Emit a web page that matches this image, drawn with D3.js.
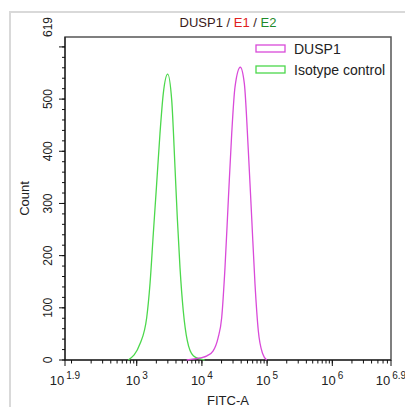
<!DOCTYPE html>
<html>
<head>
<meta charset="utf-8">
<script src="https://cdn.jsdelivr.net/npm/d3@7/dist/d3.min.js"></script>
<style>
  body { margin: 0; background: #fff; }
  text { font-family: "Liberation Sans", Arial, sans-serif; fill: #222; }
</style>
</head>
<body>
<div id="chart"></div>
<script>
// histogram colors
var colors = {
  'dusp1': '#d94ad9',
  'isotype': '#4cd84c'
}

// FITC-A intensity and counts
var isotypeX = [743, 1122, 1422, 1599, 1796, 2023, 2274, 2557, 2985, 3441, 3865, 4190, 4610, 5178, 5967, 7379, 9350, 11000];
var isotypeY = [0, 31, 81, 146, 242, 338, 434, 511, 548, 498, 369, 273, 177, 94, 37, 8, 2, 0];

var dusp1X = [5830, 9350, 11970, 14790, 17660, 20100, 22590, 25400, 28640, 32150, 38800, 44700, 51450, 57980, 65140, 73250, 85540, 98550];
var dusp1Y = [0, 4, 8, 17, 42, 81, 177, 306, 434, 523, 561, 530, 402, 273, 146, 56, 12, 0];

var xTickPowers = [1.9, 3, 4, 5, 6, 6.9];
var xTickLabels = ["1.9", "3", "4", "5", "6", "6.9"];
var yTicks = [0, 100, 200, 300, 400, 500];
var yMax = 619;

var legendNames = ["DUSP1", "Isotype control"];

var margin = { top: 37, right: 14, bottom: 47, left: 65 };
var width = 405 - margin.left - margin.right;
var height = 407 - margin.top - margin.bottom;

var svg = d3.select("#chart").append("svg")
  .attr("width", 405)
  .attr("height", 407);

// light outer frame
svg.append("path")
  .attr("d", "M10,420 V12 H420")
  .attr("fill", "none")
  .attr("stroke", "#d9d9d9")
  .attr("stroke-width", 2);

var g = svg.append("g")
  .attr("transform", "translate(" + margin.left + "," + margin.top + ")");

var x = d3.scaleLog().domain([Math.pow(10, 1.9), Math.pow(10, 6.9)]).range([0, width]);
var y = d3.scaleLinear().domain([0, yMax]).range([height, 0]);

// plot frame
g.append("rect")
  .attr("width", width)
  .attr("height", height)
  .attr("fill", "none")
  .attr("stroke", "#555")
  .attr("stroke-width", 1.5);

// x axis: major and minor ticks
var minorX = [];
for (var p = 2; p <= 6; p++) {
  for (var m = 1; m <= 9; m++) {
    var v = m * Math.pow(10, p);
    if (v <= Math.pow(10, 6.9)) minorX.push(v);
  }
}
var xAxis = g.append("g").attr("transform", "translate(0," + height + ")");
xAxis.append("line").attr("x1", 0).attr("x2", width).attr("stroke", "#111");
xAxis.selectAll(".minor").data(minorX).enter().append("line")
  .attr("x1", function(d) { return x(d); })
  .attr("x2", function(d) { return x(d); })
  .attr("y2", 3.5)
  .attr("stroke", "#111");
xAxis.selectAll(".major").data(xTickPowers).enter().append("line")
  .attr("x1", function(d) { return x(Math.pow(10, d)); })
  .attr("x2", function(d) { return x(Math.pow(10, d)); })
  .attr("y2", 6)
  .attr("stroke", "#111");
var xl = xAxis.selectAll(".lab").data(xTickPowers).enter().append("text")
  .attr("x", function(d) { return x(Math.pow(10, d)); })
  .attr("y", 25)
  .attr("text-anchor", "middle")
  .style("font-size", "13px");
xl.append("tspan").text("10");
xl.append("tspan")
  .attr("dx", 2)
  .attr("dy", -6)
  .style("font-size", "10px")
  .text(function(d, i) { return xTickLabels[i]; });

g.append("text")
  .attr("x", width / 2)
  .attr("y", height + 45)
  .attr("text-anchor", "middle")
  .style("font-size", "13px")
  .text("FITC-A");

// y axis
var yAxis = g.append("g");
yAxis.append("line").attr("y1", 0).attr("y2", height).attr("stroke", "#111");
yAxis.selectAll(".minor").data(d3.range(0, 620, 20)).enter().append("line")
  .attr("y1", function(d) { return y(d); })
  .attr("y2", function(d) { return y(d); })
  .attr("x2", -3)
  .attr("stroke", "#111");
yAxis.selectAll(".major").data(d3.range(0, 700, 100)).enter().append("line")
  .attr("y1", function(d) { return y(d); })
  .attr("y2", function(d) { return y(d); })
  .attr("x2", -6)
  .attr("stroke", "#111");
yAxis.selectAll(".lab").data(yTicks).enter().append("text")
  .attr("transform", function(d) { return "translate(-13," + y(d) + ") rotate(-90)"; })
  .attr("text-anchor", "middle")
  .style("font-size", "12px")
  .text(function(d) { return d; });
yAxis.append("text")
  .attr("transform", "translate(-13," + y(yMax) + ") rotate(-90)")
  .attr("text-anchor", "start")
  .style("font-size", "12px")
  .text(yMax);

g.append("text")
  .attr("transform", "translate(-36," + (height / 2) + ") rotate(-90)")
  .attr("text-anchor", "middle")
  .style("font-size", "13px")
  .text("Count");

// title
var title = svg.append("text")
  .attr("x", margin.left + width / 2)
  .attr("y", 27)
  .attr("text-anchor", "middle")
  .style("font-size", "13px");
title.append("tspan").style("fill", "#3a1a1a").text("DUSP1 / ");
title.append("tspan").style("fill", "#e02020").text("E1");
title.append("tspan").style("fill", "#3a1a1a").text(" / ");
title.append("tspan").style("fill", "#1f8a2a").text("E2");

// histograms
var line = d3.line()
  .x(function(d) { return x(d[0]); })
  .y(function(d) { return y(d[1]); })
  .curve(d3.curveMonotoneX);

g.append("path")
  .datum(d3.zip(isotypeX, isotypeY))
  .attr("fill", "none")
  .attr("stroke", colors.isotype)
  .attr("stroke-width", 1.3)
  .attr("d", line);

g.append("path")
  .datum(d3.zip(dusp1X, dusp1Y))
  .attr("fill", "none")
  .attr("stroke", colors.dusp1)
  .attr("stroke-width", 1.3)
  .attr("d", line);

// legend
var legend = svg.append("g").attr("transform", "translate(256,45)");
var legendColors = [colors.dusp1, colors.isotype];
legendNames.forEach(function(name, i) {
  var row = legend.append("g").attr("transform", "translate(0," + (i * 21) + ")");
  row.append("rect")
    .attr("width", 29)
    .attr("height", 7)
    .attr("fill", "none")
    .attr("stroke", legendColors[i])
    .attr("stroke-width", 1.3);
  row.append("text")
    .attr("x", 38)
    .attr("y", 9)
    .style("font-size", "14px")
    .text(name);
});
</script>
</body>
</html>
